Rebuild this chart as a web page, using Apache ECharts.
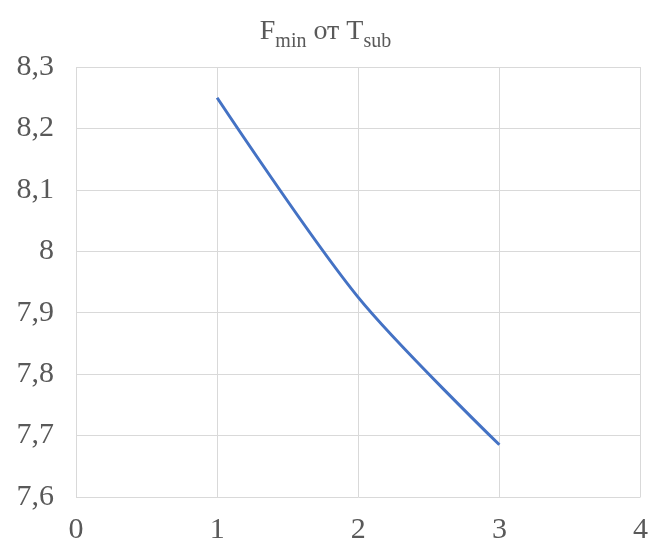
<!DOCTYPE html>
<html>
<head>
<meta charset="utf-8">
<script src="https://cdn.jsdelivr.net/npm/echarts@6/dist/echarts.min.js"></script>
<style>
  html, body { margin: 0; padding: 0; background: #fff; }
  #main { width: 651px; height: 545px; }
</style>
</head>
<body>
<div id="main"></div>
<script>
// данные графика
var xValues = [1, 2, 3];
var fMin = [8.25, 7.925, 7.685];
var yTicks = { min: 7.6, max: 8.3, step: 0.1 };
var xTicks = { min: 0, max: 4, step: 1 };

var points = xValues.map(function (x, i) { return [x, fMin[i]]; });

var myChart = echarts.init(document.getElementById('main'));
var font = '"Liberation Serif", "Times New Roman", serif';

var option = {
  backgroundColor: '#ffffff',
  title: {
    text: '{b|F}{s|min}{b| от T}{s|sub}',
    left: 'center',
    top: 9,
    textStyle: {
      fontWeight: 'normal',
      rich: {
        b: { fontFamily: font, fontSize: 28, fontWeight: 'normal', color: '#595959', verticalAlign: 'bottom', lineHeight: 32 },
        s: { fontFamily: font, fontSize: 20, fontWeight: 'normal', color: '#595959', verticalAlign: 'bottom', lineHeight: 24, padding: [0, 0, -6, 0] }
      }
    }
  },
  grid: { left: 76, right: 9, top: 67, bottom: 48 },
  xAxis: {
    type: 'value',
    min: xTicks.min, max: xTicks.max, interval: xTicks.step,
    axisLine: { show: false },
    axisTick: { show: false },
    axisLabel: { color: '#595959', fontFamily: font, fontSize: 30, margin: 18 },
    splitLine: { show: true, lineStyle: { color: '#d9d9d9', width: 1 } }
  },
  yAxis: {
    type: 'value',
    min: yTicks.min, max: yTicks.max, interval: yTicks.step,
    axisLine: { show: false },
    axisTick: { show: false },
    axisLabel: {
      color: '#595959', fontFamily: font, fontSize: 30, margin: 22,
      formatter: function (v) {
        return (Math.round(v * 10) / 10).toString().replace('.', ',');
      }
    },
    splitLine: { show: true, lineStyle: { color: '#d9d9d9', width: 1 } }
  },
  series: [{
    type: 'line',
    data: points,
    smooth: 0.3,
    showSymbol: false,
    lineStyle: { color: '#4472c4', width: 3 },
    itemStyle: { color: '#4472c4' }
  }]
};

myChart.setOption(option);
</script>
</body>
</html>
